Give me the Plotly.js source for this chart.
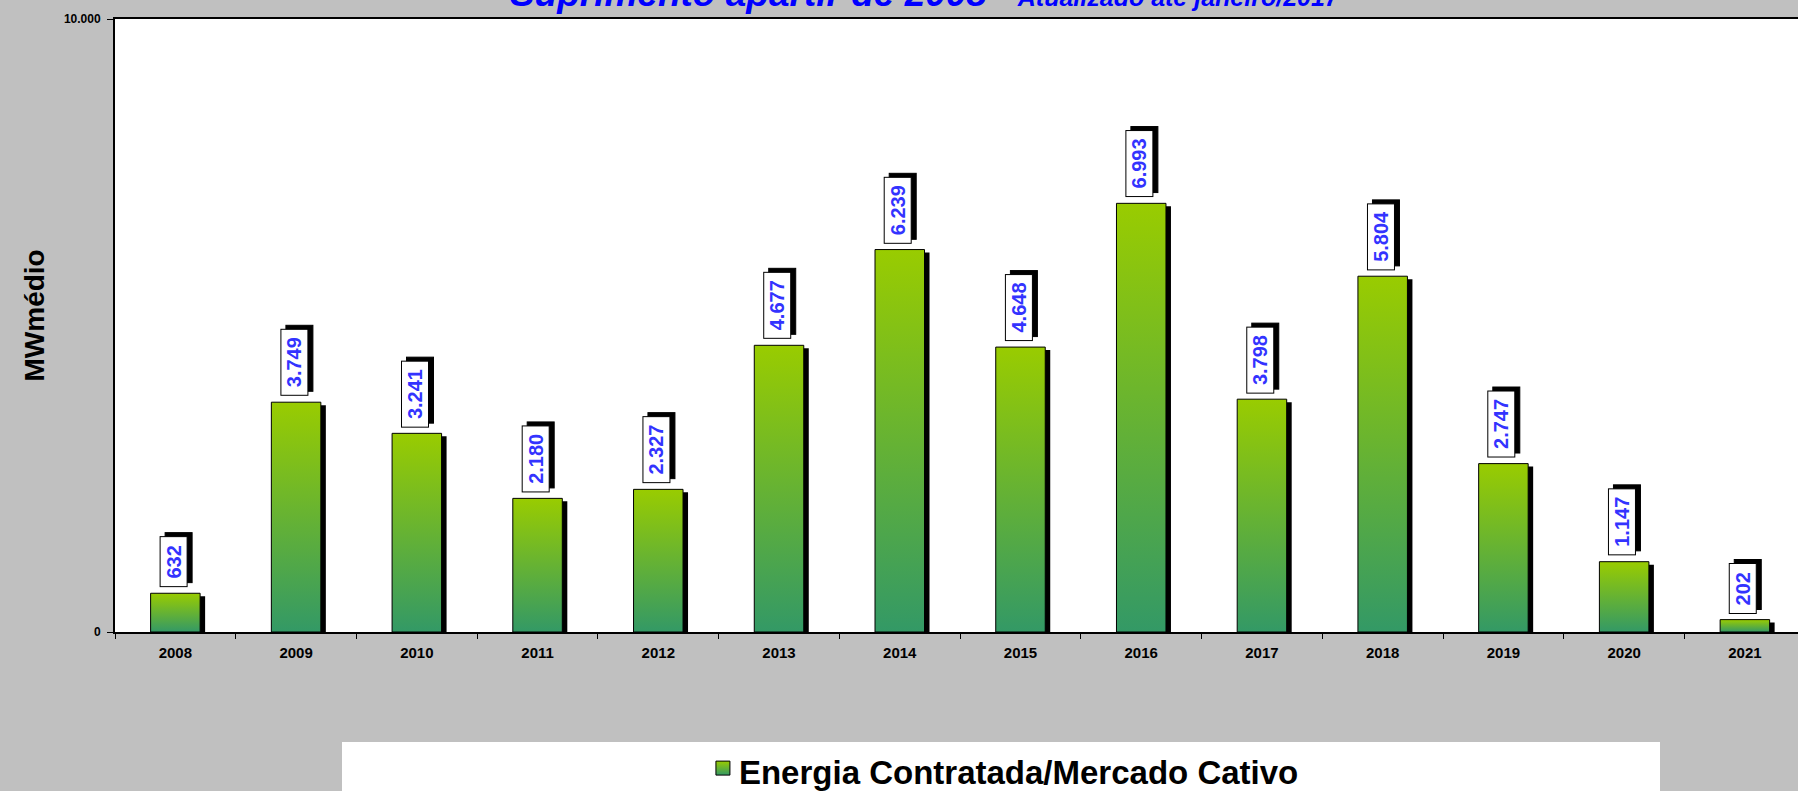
<!DOCTYPE html>
<html>
<head>
<meta charset="utf-8">
<script src="https://cdn.plot.ly/plotly-3.0.1.min.js"></script>
<style>
html,body{margin:0;padding:0;background:#C0C0C0;}
#chart{width:1798px;height:791px;}
</style>
</head>
<body>
<div id="chart"></div>
<script>
// ---- data ----
var years = ['2008','2009','2010','2011','2012','2013','2014','2015','2016','2017','2018','2019','2020','2021'];
var energia = [632, 3749, 3241, 2180, 2327, 4677, 6239, 4648, 6993, 3798, 5804, 2747, 1147, 202];
var seriesName = 'Energia Contratada/Mercado Cativo';
var yTickVals = [0, 10000];
var titleMain = 'Suprimento apartir de 2008';
var titleSub = 'Atualizado até janeiro/2017';
var yTitle = 'MWmédio';

function fmt(v){ return String(v).replace(/\B(?=(\d{3})+(?!\d))/g, '.'); }

var FONT = 'Liberation Sans, Arial, sans-serif';
var NARROW = 'Liberation Sans Narrow, Arial Narrow, Liberation Sans, Arial, sans-serif';
var BAR_W = 0.41;

var shadowTrace = {
  type: 'bar', x: years, y: energia, width: BAR_W,
  marker: {color: '#000000', line: {width: 0}},
  showlegend: false, hoverinfo: 'skip', name: 'shadow'
};
var mainTrace = {
  type: 'bar', x: years, y: energia, width: BAR_W, name: seriesName,
  marker: {color: '#66B033', line: {color: '#000000', width: 1}},
  showlegend: true
};

var annotations = [];
years.forEach(function(yr, i){
  var common = {
    x: i, y: energia[i], xref: 'x', yref: 'y',
    text: '&nbsp;<b>' + fmt(energia[i]) + '</b>&nbsp;',
    textangle: -90, showarrow: false,
    xanchor: 'center', yanchor: 'bottom',
    borderpad: 2, borderwidth: 1,
    font: {family: FONT, size: 20}
  };
  annotations.push(Object.assign({}, common, {
    bgcolor: '#000000', bordercolor: '#000000', xshift: 3, yshift: 10,
    font: {family: FONT, size: 20, color: '#000000'}
  }));
  annotations.push(Object.assign({}, common, {
    bgcolor: '#FFFFFF', bordercolor: '#000000', xshift: -2, yshift: 6,
    font: {family: FONT, size: 20, color: '#3333FF'}
  }));
});
annotations.push({
  xref: 'paper', yref: 'paper', x: 0, y: 0.5, xshift: -81, yshift: 10,
  xanchor: 'center', yanchor: 'middle', textangle: -90, showarrow: false,
  text: '<b>' + yTitle + '</b>', font: {family: FONT, size: 28, color: '#000000'}
});

var layout = {
  width: 1798, height: 791,
  paper_bgcolor: '#C0C0C0', plot_bgcolor: '#FFFFFF',
  margin: {l: 115, r: 0, t: 19, b: 159, pad: 0, autoexpand: false},
  barmode: 'overlay',
  title: {
    text: '<b><i>' + titleMain + '</i></b>&nbsp;&nbsp;&nbsp;<span style="font-size:25px"><b><i>' + titleSub + '</i></b></span>',
    font: {family: FONT, size: 37, color: '#0000FF'},
    xref: 'container', yref: 'container', automargin: false,
    x: 0.2836, xanchor: 'left', y: 0.992, yanchor: 'bottom'
  },
  xaxis: {
    type: 'category', range: [-0.5, 13.44],
    showline: true, linecolor: '#000000', linewidth: 2, mirror: true,
    ticks: 'outside', tickson: 'boundaries', ticklen: 5, tickcolor: '#000000', tickwidth: 1,
    ticklabelstandoff: 6,
    showgrid: false, zeroline: false,
    tickfont: {family: NARROW, size: 15, color: '#000000', weight: 'bold'}
  },
  yaxis: {
    range: [0, 10000], tickvals: yTickVals, tickformat: ',d',
    showline: true, linecolor: '#000000', linewidth: 2,
    ticks: 'outside', ticklen: 6, tickcolor: '#000000', tickwidth: 1,
    ticklabelstandoff: 4,
    showgrid: false, zeroline: false,
    tickfont: {family: NARROW, size: 12, color: '#000000', weight: 'bold'}
  },
  separators: ',.',
  showlegend: true,
  legend: {
    orientation: 'h', x: 0.5267, xanchor: 'center', y: -0.227, yanchor: 'middle',
    bgcolor: 'rgba(0,0,0,0)', borderwidth: 0,
    font: {family: FONT, size: 33, color: '#000000', weight: 'bold'}
  },
  shapes: [{
    type: 'rect', xref: 'paper', yref: 'paper', layer: 'below',
    x0: (342 - 115) / 1683, x1: (1660 - 115) / 1683,
    y0: -0.30, y1: (632 - 742) / 613,
    fillcolor: '#FFFFFF', line: {width: 0}
  }],
  annotations: annotations
};

var gd = document.getElementById('chart');
Plotly.newPlot(gd, [shadowTrace, mainTrace], layout, {staticPlot: true, displayModeBar: false}).then(function(){
  var ns = 'http://www.w3.org/2000/svg';
  var svg = gd.querySelector('svg.main-svg');
  var defs = svg.querySelector('defs');
  var lg = document.createElementNS(ns, 'linearGradient');
  lg.setAttribute('id', 'barGrad');
  lg.setAttribute('x1', '0'); lg.setAttribute('y1', '0');
  lg.setAttribute('x2', '0'); lg.setAttribute('y2', '1');
  [['0', '#99CC00'], ['1', '#339966']].forEach(function(s){
    var st = document.createElementNS(ns, 'stop');
    st.setAttribute('offset', s[0]); st.setAttribute('stop-color', s[1]);
    lg.appendChild(st);
  });
  defs.appendChild(lg);
  var traces = gd.querySelectorAll('.barlayer .trace');
  if (traces.length >= 2) {
    traces[0].querySelectorAll('path').forEach(function(p){ p.setAttribute('transform', 'translate(5,3)'); });
    traces[1].querySelectorAll('path').forEach(function(p){ p.style.fill = 'url(#barGrad)'; });
  }
  gd.querySelectorAll('.legend .legendpoints path').forEach(function(p){
    p.style.fill = 'url(#barGrad)';
    p.style.stroke = '#000000';
    p.style.strokeWidth = '1px';
    p.setAttribute('d', 'M7,7H-7V-7H7Z');
    p.setAttribute('transform', 'translate(24,-3)');
  });
});
</script>
</body>
</html>
